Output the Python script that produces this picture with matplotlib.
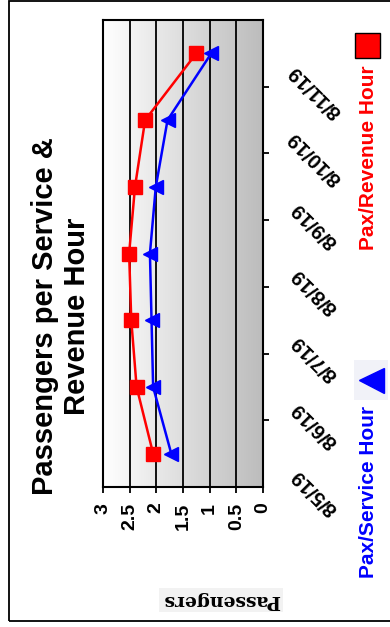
import matplotlib
matplotlib.use('Agg')
import matplotlib.pyplot as plt
import numpy as np
from matplotlib.colors import LinearSegmentedColormap
from matplotlib.lines import Line2D
from matplotlib.patches import Rectangle

DATES = ['8/5/19', '8/6/19', '8/7/19', '8/8/19', '8/9/19', '8/10/19', '8/11/19']
PAX_REVENUE = [2.06, 2.37, 2.47, 2.51, 2.40, 2.21, 1.25]
PAX_SERVICE = [1.72, 2.06, 2.09, 2.12, 2.01, 1.79, 0.97]
VALUE_TICKS = [0, 0.5, 1, 1.5, 2, 2.5, 3]
VALUE_LABELS = ['0', '0.5', '1', '1.5', '2', '2.5', '3']

W, H = 390, 627
plt.rcParams['font.family'] = ['Liberation Sans', 'DejaVu Sans']

fig = plt.figure(figsize=(W / 100, H / 100), dpi=100)
ax = fig.add_axes([103 / W, 1 - 487 / H, 160 / W, 467 / H])

pos = np.arange(len(DATES))

# grey gradient behind the plot area
cmap = LinearSegmentedColormap.from_list('bg', ['#ffffff', '#bcbcbc'])
grad = np.linspace(0, 1, 256).reshape(1, -1)
ax.imshow(grad, extent=[3, 0, -0.5, len(DATES) - 0.5], aspect='auto',
          cmap=cmap, zorder=0)
for v in VALUE_TICKS:
    ax.axvline(v, color='black', lw=1.3, zorder=1)

ax.plot(PAX_REVENUE, pos, color='red', lw=1.8, marker='s', ms=9.5,
        mec='red', zorder=3)
ax.plot(PAX_SERVICE, pos, color='blue', lw=1.8, marker='<', ms=10,
        mec='blue', zorder=3)

ax.set_xlim(3, 0)
ax.set_ylim(-0.5, len(DATES) - 0.5)
ax.set_xticks(VALUE_TICKS, VALUE_LABELS)
ax.tick_params(axis='x', direction='out', length=4.3, width=1.3,
               labelsize=14, labelrotation=90, pad=7)
for lbl in ax.get_xticklabels():
    lbl.set_fontweight('bold')
ax.yaxis.tick_right()
ax.set_yticks(pos[:-1] + 0.5)
ax.set_yticklabels([])
ax.tick_params(axis='y', direction='out', length=4.3, width=1.3)
for s in ax.spines.values():
    s.set_linewidth(1.5)

for i, d in enumerate(DATES):
    ax.annotate(d, xy=(1, pos[i]), xycoords=ax.get_yaxis_transform(),
                xytext=(52, -38), textcoords='offset pixels', rotation=135,
                ha='center', va='center', fontsize=14.5, fontweight='bold')

fig.text(221 / W, 1 - 600 / H, 'Passengers', rotation=180, ha='center',
         va='center', family='DejaVu Serif', fontweight='bold', fontsize=13.5,
         bbox=dict(facecolor='#f2f2f2', edgecolor='none', pad=2))

fig.text(61 / W, 1 - 316 / H, 'Passengers per Service &\nRevenue Hour',
         rotation=90, ha='center', va='center', fontsize=21,
         fontweight='bold', multialignment='center', linespacing=1.2)

# legend, drawn by hand since it is rotated
fig.add_artist(Line2D([366.5 / W], [1 - 44.5 / H], marker='s', ms=18,
                      mfc='red', mec='black', mew=1, transform=fig.transFigure))
fig.text(369 / W, 1 - 158 / H, 'Pax/Revenue Hour', rotation=90, ha='center',
         va='center', color='red', fontweight='bold', fontsize=15)
fig.add_artist(Rectangle((354 / W, 1 - 400 / H), 34 / W, 40 / H,
                         facecolor='#f1f2f8', edgecolor='none',
                         transform=fig.transFigure))
fig.add_artist(Line2D([371 / W], [1 - 380 / H], marker='<', ms=18,
                      mfc='blue', mec='blue', transform=fig.transFigure))
fig.text(369 / W, 1 - 492 / H, 'Pax/Service Hour', rotation=90, ha='center',
         va='center', color='blue', fontweight='bold', fontsize=15)

fig.add_artist(Rectangle((9 / W, 6 / H), 1, 620 / H, fill=False,
                         edgecolor='black', lw=1.3, transform=fig.transFigure))

fig.savefig('out.png', dpi=100)
